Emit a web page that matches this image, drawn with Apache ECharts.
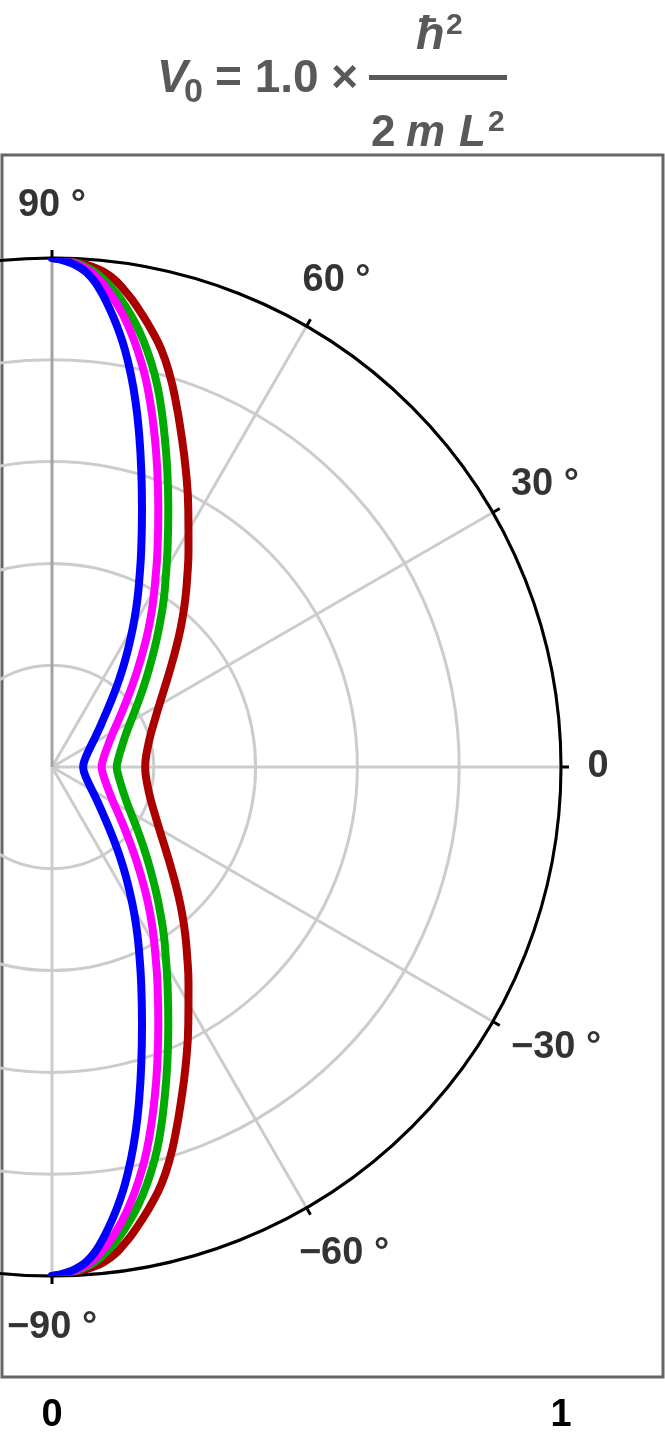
<!DOCTYPE html>
<html>
<head>
<meta charset="utf-8">
<script src="https://cdn.jsdelivr.net/npm/echarts@6/dist/echarts.min.js"></script>
<style>html,body{margin:0;padding:0;background:#fff}#chart{width:665px;height:1440px}</style>
</head>
<body>
<div id="chart"></div>
<script>
// ---------- data: [angle in degrees, radius] ----------
const curveBlue = [[-90,1.0],[-88.87,0.9963],[-87.84,0.9909],[-86.91,0.9838],[-86.07,0.9748],[-85.13,0.9603],[-84.25,0.9419],[-83.47,0.9235],[-82.38,0.8959],[-81.35,0.8684],[-80.07,0.8317],[-78.61,0.7856],[-77.21,0.7394],[-75.56,0.6837],[-73.27,0.6093],[-70.70,0.5350],[-67.65,0.4609],[-64.98,0.4054],[-62.94,0.3684],[-60.76,0.3310],[-58.38,0.2930],[-55.62,0.2547],[-52.40,0.2157],[-48.39,0.1760],[-42.66,0.1363],[-35.84,0.1074],[-24.68,0.0800],[-12.08,0.0657],
  [0,0.0613],[12.08,0.0657],[24.68,0.0800],[35.84,0.1074],[42.66,0.1363],[48.39,0.1760],[52.40,0.2157],[55.62,0.2547],[58.38,0.2930],[60.76,0.3310],[62.94,0.3684],[64.98,0.4054],[67.65,0.4609],[70.70,0.5350],[73.27,0.6093],[75.56,0.6837],[77.21,0.7394],[78.61,0.7856],[80.07,0.8317],[81.35,0.8684],[82.38,0.8959],[83.47,0.9235],[84.25,0.9419],[85.13,0.9603],[86.07,0.9748],[86.91,0.9838],[87.84,0.9909],[88.87,0.9963],[90,1.0]];
const curveMagenta = [[-90,1.0],[-88.64,0.9963],[-87.50,0.9911],[-86.45,0.9842],[-85.50,0.9755],[-84.43,0.9613],[-83.36,0.9435],[-82.38,0.9257],[-81.07,0.8989],[-79.88,0.8721],[-78.41,0.8363],[-76.68,0.7914],[-75.08,0.7462],[-73.16,0.6917],[-70.48,0.6191],[-67.53,0.5464],[-64.07,0.4740],[-61.08,0.4197],[-58.76,0.3837],[-56.25,0.3473],[-53.50,0.3104],[-50.41,0.2728],[-46.63,0.2351],[-41.85,0.1973],[-35.25,0.1600],[-28.07,0.1336],[-17.38,0.1118],[-7.81,0.1011],
  [0,0.0976],[7.81,0.1011],[17.38,0.1118],[28.07,0.1336],[35.25,0.1600],[41.85,0.1973],[46.63,0.2351],[50.41,0.2728],[53.50,0.3104],[56.25,0.3473],[58.76,0.3837],[61.08,0.4197],[64.07,0.4740],[67.53,0.5464],[70.48,0.6191],[73.16,0.6917],[75.08,0.7462],[76.68,0.7914],[78.41,0.8363],[79.88,0.8721],[81.07,0.8989],[82.38,0.9257],[83.36,0.9435],[84.43,0.9613],[85.50,0.9755],[86.45,0.9842],[87.50,0.9911],[88.64,0.9963],[90,1.0]];
const curveGreen = [[-90,1.0],[-88.53,0.9964],[-87.27,0.9913],[-86.11,0.9846],[-85.04,0.9761],[-83.85,0.9623],[-82.65,0.9449],[-81.56,0.9275],[-80.11,0.9014],[-78.78,0.8753],[-77.17,0.8402],[-75.31,0.7962],[-73.60,0.7516],[-71.62,0.6977],[-68.79,0.6259],[-65.65,0.5542],[-61.98,0.4830],[-58.74,0.4298],[-56.22,0.3947],[-53.57,0.3589],[-50.55,0.3231],[-47.08,0.2871],[-42.85,0.2513],[-37.60,0.2157],[-30.66,0.1811],[-23.50,0.1577],[-13.88,0.1392],[-6.05,0.1304],
  [0,0.1273],[6.05,0.1304],[13.88,0.1392],[23.50,0.1577],[30.66,0.1811],[37.60,0.2157],[42.85,0.2513],[47.08,0.2871],[50.55,0.3231],[53.57,0.3589],[56.22,0.3947],[58.74,0.4298],[61.98,0.4830],[65.65,0.5542],[68.79,0.6259],[71.62,0.6977],[73.60,0.7516],[75.31,0.7962],[77.17,0.8402],[78.78,0.8753],[80.11,0.9014],[81.56,0.9275],[82.65,0.9449],[83.85,0.9623],[85.04,0.9761],[86.11,0.9846],[87.27,0.9913],[88.53,0.9964],[90,1.0]];
const curveRed = [[-90,1.0],[-88.31,0.9965],[-86.82,0.9917],[-85.31,0.9856],[-84.00,0.9778],[-82.63,0.9648],[-81.38,0.9478],[-80.25,0.9310],[-78.68,0.9056],[-77.18,0.8805],[-75.29,0.8470],[-73.28,0.8042],[-71.40,0.7607],[-69.11,0.7087],[-65.75,0.6400],[-62.06,0.5715],[-57.83,0.5037],[-54.17,0.4531],[-51.43,0.4197],[-48.47,0.3858],[-45.23,0.3515],[-41.53,0.3171],[-37.11,0.2833],[-31.63,0.2510],[-24.57,0.2221],[-18.00,0.2035],[-10.13,0.1900],[-4.28,0.1844],
  [0,0.1831],[4.28,0.1844],[10.13,0.1900],[18.00,0.2035],[24.57,0.2221],[31.63,0.2510],[37.11,0.2833],[41.53,0.3171],[45.23,0.3515],[48.47,0.3858],[51.43,0.4197],[54.17,0.4531],[57.83,0.5037],[62.06,0.5715],[65.75,0.6400],[69.11,0.7087],[71.40,0.7607],[73.28,0.8042],[75.29,0.8470],[77.18,0.8805],[78.68,0.9056],[80.25,0.9310],[81.38,0.9478],[82.63,0.9648],[84.00,0.9778],[85.31,0.9856],[86.82,0.9917],[88.31,0.9965],[90,1.0]];

const angleTicks = [90, 60, 30, 0, -30, -60, -90];
const angleTickLabels = ['90 °', '60 °', '30 °', '0', '−30 °', '−60 °', '−90 °'];
const spokeAngles = [-90, -60, -30, 0, 30, 60];
const axisSpokeAngle = 90;
const xTicks = [0, 1];
const xTickLabels = ['0', '1'];

// ---------- layout / style ----------
const FONT = '"Liberation Sans", Arial, Helvetica, sans-serif';
const CX = 52, CY = 767, R = 509;
const FRAME_L = 2, FRAME_R = 663, FRAME_T = 155, FRAME_B = 1377;
const TITLE = '#595959';
// label placement (radius, angle) for each angle tick label, centred on the point
const labelPlace = {
  '90': [1.104, 90], '60': [1.108, 59.7], '30': [1.116, 29.8], '0': [1.073, 0],
  '-30': [1.133, -29.05], '-60': [1.114, -59.0], '-90': [1.102, -90]
};

const toPolar = arr => arr.map(([a, r]) => [r, a]);

const spokeData = [];
spokeAngles.forEach(a => { spokeData.push([0, a]); spokeData.push([1, a]); spokeData.push([0, a]); });

const curve = (data, color) => ({
  type: 'line', coordinateSystem: 'polar', data: toPolar(data),
  showSymbol: false, symbol: 'none', smooth: 0.5, clip: false, silent: true, z: 3,
  lineStyle: { color: color, width: 8, cap: 'round', join: 'round' }
});

const txt = (x, y, text, font) => ({
  type: 'text', x: x, y: y,
  style: { text: text, font: font, fill: TITLE, align: 'left', verticalAlign: 'middle', textAlign: 'left', textVerticalAlign: 'middle' }
});

const chart = echarts.init(document.getElementById('chart'), null, { renderer: 'canvas' });
chart.setOption({
  animation: false,
  backgroundColor: '#ffffff',
  grid: {
    left: FRAME_L, right: 665 - FRAME_R, top: FRAME_T, bottom: 1440 - FRAME_B,
    show: true, borderColor: '#666666', borderWidth: 3, backgroundColor: 'transparent'
  },
  xAxis: {
    type: 'value', min: (FRAME_L - CX) / R, max: (FRAME_R - CX) / R,
    axisLine: { show: false }, splitLine: { show: false },
    axisTick: { show: true, inside: true, length: 13, lineStyle: { color: '#000', width: 2 }, customValues: xTicks },
    axisLabel: {
      show: true, customValues: xTicks, margin: 20,
      formatter: v => xTickLabels[xTicks.indexOf(Math.round(v))],
      fontSize: 38, fontWeight: 'bold', color: '#000', fontFamily: FONT
    }
  },
  yAxis: { type: 'value', min: -1, max: 1, show: false },
  polar: { center: [CX, CY], radius: R },
  angleAxis: {
    type: 'value', min: -180, max: 180, interval: 30, startAngle: 180, clockwise: false, z: 2,
    axisLine: { show: true, lineStyle: { color: '#000', width: 3 } },
    axisTick: { show: true, length: 8, lineStyle: { color: '#000', width: 3 } },
    axisLabel: { show: false }, splitLine: { show: false }
  },
  radiusAxis: {
    type: 'value', min: 0, max: 1, interval: 0.2, z: 0,
    axisLine: { show: false }, axisTick: { show: false }, axisLabel: { show: false },
    splitLine: { show: true, lineStyle: { color: '#cccccc', width: 3 } }
  },
  graphic: [
    txt(157, 79, 'V', 'italic bold 46px ' + FONT),
    txt(184, 93, '0', 'bold 34px ' + FONT),
    txt(215, 79, '= 1.0 ×', 'bold 46px ' + FONT),
    { type: 'line', shape: { x1: 369, y1: 77.5, x2: 507, y2: 77.5 }, style: { stroke: TITLE, lineWidth: 5 } },
    txt(416, 36, 'ħ', 'italic bold 47px ' + FONT),
    txt(446, 26, '2', 'bold 30px ' + FONT),
    txt(371, 134, '2', 'bold 44px ' + FONT),
    txt(406, 134, 'm', 'italic bold 44px ' + FONT),
    txt(459, 134, 'L', 'italic bold 44px ' + FONT),
    txt(488, 123, '2', 'bold 30px ' + FONT)
  ],
  series: [
    {
      type: 'line', coordinateSystem: 'polar', data: spokeData, showSymbol: false, symbol: 'none',
      clip: false, silent: true, z: 1, lineStyle: { color: '#cccccc', width: 3 }
    },
    {
      type: 'line', coordinateSystem: 'polar', data: [[0, axisSpokeAngle], [1, axisSpokeAngle]],
      showSymbol: false, symbol: 'none', clip: false, silent: true, z: 1, lineStyle: { color: '#a3a3a3', width: 3 }
    },
    curve(curveRed, '#aa0000'),
    curve(curveGreen, '#00aa00'),
    curve(curveMagenta, '#ff00ff'),
    curve(curveBlue, '#0000ff'),
    {
      type: 'scatter', coordinateSystem: 'polar', symbolSize: 1, silent: true, z: 5, clip: false,
      itemStyle: { color: 'rgba(0,0,0,0)' },
      data: angleTicks.map((a, i) => ({
        value: labelPlace[String(a)],
        label: { formatter: angleTickLabels[i] }
      })),
      label: { show: true, position: 'inside', color: '#000', fontSize: 38, fontWeight: 'bold', fontFamily: FONT }
    }
  ]
});
</script>
</body>
</html>
